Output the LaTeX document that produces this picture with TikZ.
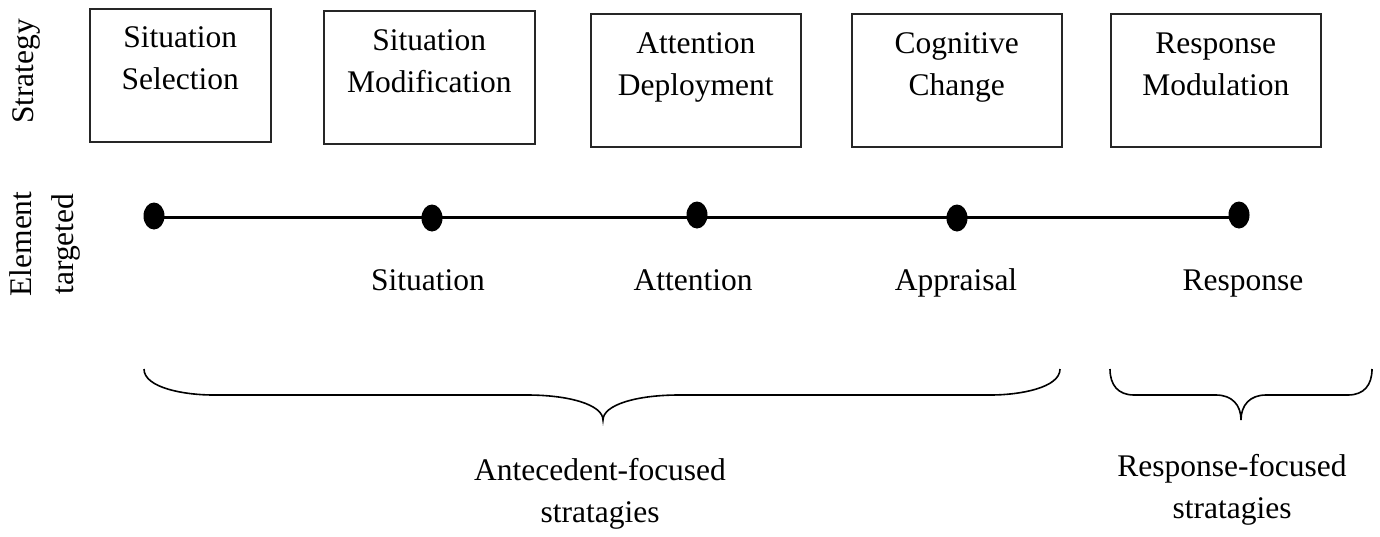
\documentclass[tikz,border=0pt]{standalone}
\usepackage{fontspec}
\setmainfont{Liberation Serif}
\usetikzlibrary{calc,shapes.geometric}
\begin{document}
\begin{tikzpicture}[x=1pt,y=-1pt,
  every node/.style={font=\fontsize{31.5}{42}\selectfont},
  stratbox/.style={draw=black!85, line width=1.5pt, minimum height=133pt, inner sep=0pt, anchor=north west},
  lbl/.style={align=center, anchor=base, inner sep=0pt},
  dot/.style={ellipse, fill=black, minimum width=21pt, minimum height=27pt, inner sep=0pt},
  tline/.style={line width=3pt},
  bracepath/.style={line width=1.6pt}]
\useasboundingbox (0,0) rectangle (1380,536);
% side labels
\node[lbl, rotate=90] (sidestrat) at (33,71.5) {Strategy};
\node[lbl, rotate=90] (sideelem) at (73,244) {Element\\targeted};
% strategy boxes
\node[stratbox, minimum width=181pt] (b1) at (89,8) {};
\node[stratbox, minimum width=211pt] (b2) at (323,10) {};
\node[stratbox, minimum width=210pt] (b3) at (590,13) {};
\node[stratbox, minimum width=210pt] (b4) at (851,13) {};
\node[stratbox, minimum width=210pt] (b5) at (1110,13) {};
\node[lbl] (t1) at ($(b1.north)+(0,81)$) {Situation\\Selection};
\node[lbl] (t2) at ($(b2.north)+(0,82)$) {Situation\\Modification};
\node[lbl] (t3) at ($(b3.north)+(0,82)$) {Attention\\Deployment};
\node[lbl] (t4) at ($(b4.north)+(0,82)$) {Cognitive\\Change};
\node[lbl] (t5) at ($(b5.north)+(0,82)$) {Response\\Modulation};
% timeline
\coordinate (p1) at (154,216);
\coordinate (p2) at (432,218);
\coordinate (p3) at (697,215);
\coordinate (p4) at (957,218);
\coordinate (p5) at (1239,215);
\draw[tline] (154,217) -- (1239,217);
\node[dot] (d1) at (p1) {};
\node[dot] (d2) at (p2) {};
\node[dot] (d3) at (p3) {};
\node[dot] (d4) at (p4) {};
\node[dot] (d5) at (p5) {};
% element labels
\node[lbl] (e2) at (428,290) {Situation};
\node[lbl] (e3) at (693,290) {Attention};
\node[lbl] (e4) at (956,290) {Appraisal};
\node[lbl] (e5) at (1243,290) {Response};
% braces
\draw[bracepath] (144,369) .. controls (144,388) and (185,395) .. (213,395)
  -- (527,395) .. controls (570,395) and (603,405) .. (603,420)
  .. controls (603,405) and (636,395) .. (679,395)
  -- (991,395) .. controls (1019,395) and (1060,388) .. (1060,369);
\draw[bracepath] (1110,369) .. controls (1110,385) and (1118,395) .. (1134,395)
  -- (1216,395) .. controls (1232,395) and (1241,405) .. (1241,420)
  .. controls (1241,405) and (1250,395) .. (1266,395)
  -- (1348,395) .. controls (1364,395) and (1372,385) .. (1372,369);
% brace labels
\node[lbl] (g1) at (600,522) {Antecedent-focused\\stratagies};
\node[lbl] (g2) at (1232,518) {Response-focused\\stratagies};
\end{tikzpicture}
\end{document}
